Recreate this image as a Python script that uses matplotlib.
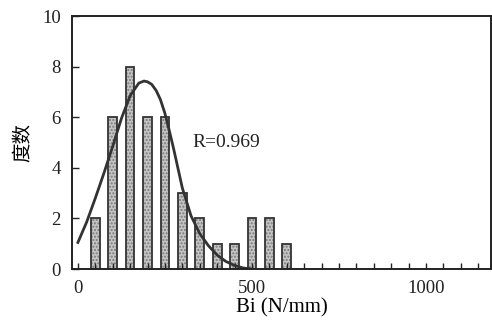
import matplotlib
matplotlib.use('Agg')
import matplotlib.pyplot as plt
from matplotlib.ticker import MultipleLocator

# histogram of Bi values
bin_centers = [50, 100, 150, 200, 250, 300, 350, 400, 450, 500, 550, 600]
counts = [2, 6, 8, 6, 6, 3, 2, 1, 1, 2, 2, 1]

# fitted curve
curve_x = [0, 25, 50, 75, 100, 125, 150, 175, 190, 200, 212, 225, 237, 250, 262, 275,
           300, 325, 350, 375, 400, 425, 450, 475, 500]
curve_y = [1.05, 1.85, 2.8, 3.8, 4.85, 5.95, 6.85, 7.35, 7.43, 7.4, 7.3, 7.05, 6.7, 6.15, 5.5, 4.75,
           3.2, 2.1, 1.4, 0.92, 0.55, 0.3, 0.14, 0.04, 0.0]

plt.rcParams['font.family'] = ['Liberation Serif', 'Noto Sans CJK SC']

fig = plt.figure(figsize=(4.92, 3.26), dpi=100)
ax = fig.add_axes([0.1463, 0.1748, 0.852, 0.776])

ax.bar(bin_centers, counts, width=25, color='#c4c4c4', hatch='.....',
       edgecolor='#7a7a7a', linewidth=0)
ax.bar(bin_centers, counts, width=25, fill=False, edgecolor='#333333',
       linewidth=1.3)
ax.plot(curve_x, curve_y, color='#333333', linewidth=2, solid_joinstyle='round')

ax.text(328, 5.0, 'R=0.969', fontsize=14, va='center', ha='left', color='#222222')

ax.set_xlim(-17, 1187)
ax.set_ylim(0, 10)
ax.xaxis.set_major_locator(MultipleLocator(500))
ax.xaxis.set_minor_locator(MultipleLocator(50))
ax.yaxis.set_major_locator(MultipleLocator(2))
ax.tick_params(axis='both', which='both', direction='in', labelsize=13.5,
               colors='#222222', width=1)
ax.tick_params(axis='x', which='major', length=4, pad=8)
ax.tick_params(axis='x', which='minor', length=4)
ax.tick_params(axis='y', which='major', length=5, pad=8)
for s in ax.spines.values():
    s.set_linewidth(1.4)
    s.set_color('#222222')

ax.set_xlabel('Bi (N/mm)', fontsize=15, labelpad=1)
ax.set_ylabel('度数', fontsize=14, family=['Noto Sans CJK SC'], labelpad=6)

fig.savefig('out.png', dpi=100)
